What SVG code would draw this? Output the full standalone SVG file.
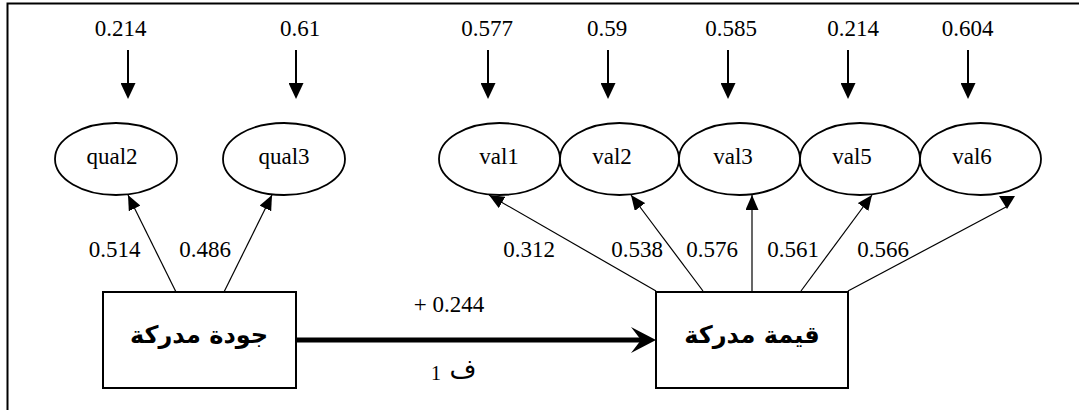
<svg xmlns="http://www.w3.org/2000/svg" width="1079" height="410" viewBox="0 0 1079 410">
  <style>
    .num { font-family: 'Liberation Serif', 'DejaVu Serif', serif; font-size: 23px; fill: #000; text-anchor: middle; }
    .ar { font-family: 'DejaVu Sans', sans-serif; font-weight: bold; font-size: 24px; fill: #000; text-anchor: middle; }
    .ell { fill: #fff; stroke: #000; stroke-width: 1.8; }
    .box { fill: #fff; stroke: #000; stroke-width: 2; }
    .err { stroke: #000; stroke-width: 2; fill: none; }
    .load { stroke: #000; stroke-width: 1.2; fill: none; }
  </style>
  <defs>
    <marker id="head" markerUnits="userSpaceOnUse" markerWidth="16" markerHeight="15" refX="14" refY="7.5" orient="auto">
      <path d="M0,0 L16,7.5 L0,15 Z" fill="#000"/>
    </marker>
    <marker id="headThin" markerUnits="userSpaceOnUse" markerWidth="15" markerHeight="13" refX="15" refY="6.5" orient="auto">
      <path d="M0,0 L15,6.5 L0,13 Z" fill="#000"/>
    </marker>
    <marker id="stealth" markerUnits="userSpaceOnUse" markerWidth="25" markerHeight="26" refX="10" refY="13" orient="auto">
      <path d="M0,0 L25,13 L0,26 L10,13 Z" fill="#000"/>
    </marker>
  </defs>

  <!-- frame -->
  <path d="M7.5,410 V3.5 H1079" fill="none" stroke="#000" stroke-width="2"/>

  <!-- error terms -->
  <g id="errors">
    <text class="num" x="120.5" y="36">0.214</text>
    <text class="num" x="300" y="36">0.61</text>
    <text class="num" x="487" y="36">0.577</text>
    <text class="num" x="607" y="36">0.59</text>
    <text class="num" x="731" y="36">0.585</text>
    <text class="num" x="853" y="36">0.214</text>
    <text class="num" x="967.5" y="36">0.604</text>
  </g>

  <g id="connectors">
    <!-- error arrows -->
    <line class="err" x1="128" y1="50" x2="128" y2="97" marker-end="url(#head)"/>
    <line class="err" x1="296" y1="50" x2="296" y2="97" marker-end="url(#head)"/>
    <line class="err" x1="488" y1="50" x2="488" y2="97" marker-end="url(#head)"/>
    <line class="err" x1="608" y1="50" x2="608" y2="97" marker-end="url(#head)"/>
    <line class="err" x1="728" y1="50" x2="728" y2="97" marker-end="url(#head)"/>
    <line class="err" x1="848" y1="50" x2="848" y2="97" marker-end="url(#head)"/>
    <line class="err" x1="968" y1="50" x2="968" y2="97" marker-end="url(#head)"/>
    <!-- loadings -->
    <line class="load" x1="176" y1="292" x2="128" y2="195" marker-end="url(#headThin)"/>
    <line class="load" x1="224" y1="292" x2="272" y2="195" marker-end="url(#headThin)"/>
    <line class="load" x1="656" y1="291" x2="489" y2="195" marker-end="url(#headThin)"/>
    <line class="load" x1="703" y1="291" x2="631" y2="195" marker-end="url(#headThin)"/>
    <line class="load" x1="752" y1="291" x2="752" y2="195" marker-end="url(#headThin)"/>
    <line class="load" x1="801" y1="291" x2="872" y2="195" marker-end="url(#headThin)"/>
    <line class="load" x1="848" y1="291" x2="1006" y2="207"/>
    <polygon points="999,196 1015,196 1007,209" fill="#000"/>
    <!-- structural path -->
    <line x1="296" y1="340" x2="641" y2="340" stroke="#000" stroke-width="5" marker-end="url(#stealth)"/>
  </g>

  <!-- indicators -->
  <g id="qual2"><ellipse class="ell" cx="116" cy="159" rx="61" ry="36"/><text class="num" x="112" y="164">qual2</text></g>
  <g id="qual3"><ellipse class="ell" cx="284" cy="159" rx="61" ry="36"/><text class="num" x="284" y="164">qual3</text></g>
  <g id="val1"><ellipse class="ell" cx="499.5" cy="159" rx="60.5" ry="36"/><text class="num" x="499" y="164">val1</text></g>
  <g id="val2"><ellipse class="ell" cx="619.5" cy="159" rx="59.5" ry="36"/><text class="num" x="612" y="164">val2</text></g>
  <g id="val3"><ellipse class="ell" cx="739.5" cy="159" rx="60.5" ry="36"/><text class="num" x="733" y="164">val3</text></g>
  <g id="val5"><ellipse class="ell" cx="860" cy="159" rx="60" ry="36"/><text class="num" x="852" y="164">val5</text></g>
  <g id="val6"><ellipse class="ell" cx="980.5" cy="159" rx="60.5" ry="36"/><text class="num" x="972" y="164">val6</text></g>

  <!-- loading labels -->
  <g id="loadings">
    <text class="num" x="114.5" y="257">0.514</text>
    <text class="num" x="205" y="257">0.486</text>
    <text class="num" x="529" y="257">0.312</text>
    <text class="num" x="637" y="257">0.538</text>
    <text class="num" x="712" y="257">0.576</text>
    <text class="num" x="793" y="257">0.561</text>
    <text class="num" x="883" y="257">0.566</text>
  </g>

  <!-- latent constructs -->
  <g id="quality">
    <rect class="box" x="103" y="292" width="193" height="96"/>
    <text class="ar" x="199" y="343">جودة مدركة</text>
  </g>
  <g id="value">
    <rect class="box" x="656" y="292" width="192" height="96"/>
    <text class="ar" x="752" y="343">قيمة مدركة</text>
  </g>

  <!-- path labels -->
  <g id="path-labels">
    <text class="num" x="449" y="312">+ 0.244</text>
    <text class="num" x="436" y="380" style="font-size:20px">1</text>
    <text class="ar" x="463" y="378" style="font-weight:normal;font-size:26px">ف</text>
  </g>
</svg>
